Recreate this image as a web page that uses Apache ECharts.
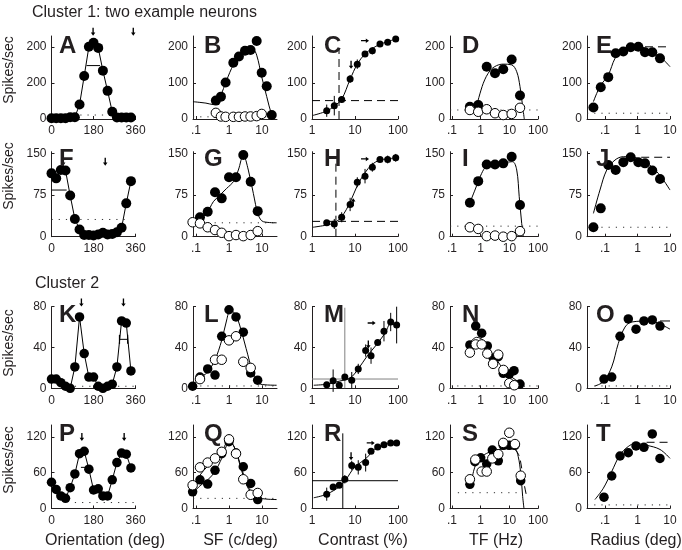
<!DOCTYPE html>
<html><head><meta charset="utf-8">
<script src="https://cdn.jsdelivr.net/npm/echarts@6/dist/echarts.min.js"></script>
<style>html,body{margin:0;padding:0;background:#fff}#c{width:682px;height:550px}</style>
</head><body><div id="c"></div>
<script>
// ================= DATA =================
// tick values / labels
const oriTicks=[0,180,360], oriTickText=['0','180','360'];
const sfTicks=[0.1,1,10], sfTickText=['.1','1','10'];
const conTicks=[1,10,100], conTickText=['1','10','100'];
const tfTicks=[0.1,1,10,100], tfTickText=['.1','1','10','100'];
const radTicks=[0.1,1,10], radTickText=['.1','1','10'];
const yTicks=[[0,100,200],[0,75,150],[0,40,80],[0,60,120]];
const A_yTickText=['0','200','200'];

// shared stimulus values
const oriDeg=[0,20,40,60,80,100,120,140,160,180,200,220,240,260,280,300,320,340];
const sfB=[0.40,0.57,0.79,1.35,2.0,3.05,4.5,6.9,9.8,13.9,19.7];
const sfX=[0.079,0.132,0.226,0.377,0.601,1.0,1.63,2.71,4.54,7.4];
const con10=[2.2,3.3,4.9,7.7,11.3,17.1,25.3,38.1,57.5,88.5];
const con12=[2.2,3.1,4.3,5.8,8.4,11.9,17.7,23.6,33.7,47.2,67.6,93];
const tf7=[0.42,0.82,1.62,3.15,6.1,12.0,23.4];
const rad10=[0.044,0.074,0.126,0.213,0.366,0.618,1.06,1.70,2.85,4.92];
const rad8=[0.093,0.161,0.29,0.521,0.9,1.58,2.85,4.92];

// A
const A_rate=[2,2,2,2,5,5,40,119,200,211,197,134,78,20,4,4,4,4];
const A_spont=11, A_barDeg=[150,208], A_barRate=[148,148];
const A_arrowDeg=[178,350], A_arrowRate=[242,242];
// B
const B_filled=[51,62,101,156,173,189,191,216,128,91,11];
const B_open=[17,7,6,6,6,7,7,8,14];
const B_fitSF=[0.081,0.2,0.335,0.533,0.851,1.35,2.15,3.43,5.46,6.9,9.8,13.9,19.7,23];
const B_fitRate=[48,44,40,62,108,150,177,186,191,177,117,62,11,2];
const B_spont=6;
// C
const C_rate=[23,37,54,111,152,180,189,208,213,222];
const C_sem=[17,27,9,11,13,5,10,4,3,3];
const C_fitCon=[1.05,2.2,3.3,4.9,7.7,11.3,17,25,38,57,88];
const C_fitRate=[10,22,36,55,110,152,180,195,207,214,222];
const C_c50=4.25, C_c50Top=197, C_base=51;
const C_arrowCon=[17.1,8.1], C_arrowRate=[217,150];
// D
const D_filled=[34,39,145,127,138,165,65], D_open=[25,20,27,16,11,14,31];
const D_fitTF=[0.72,1.23,2.11,3.6,6.1,12,18,23.4,29,33];
const D_fitRate=[36,99,134,148,152,150,131,90,34,0];
const D_spont=25;
// E
const E_rate=[32,88,116,182,187,199,200,185,185,168];
const E_fitRad=[0.044,0.070,0.126,0.203,0.327,0.587,1.06,2.43,4.92,10];
const E_fitRate=[48,90,122,168,191,200,200,191,173,145];
const E_dashRad=[1.7,10], E_dash=200, E_spont=16;
// F
const F_rate=[114,105,120,119,74,32,13,3,3,2,4,7,4,5,8,16,60,100];
const F_barDeg=[0,65], F_barRate=[84,84];
const F_spontDeg=[0,315], F_spont=31;
const F_arrowDeg=[50,230], F_arrowRate=[135,135];
// G
const G_filled=[null,35,45,80,69,107,107,147,99,46];
const G_open=[26,24,17,12,7,1,3,1,3,10];
const G_fitSF=[0.117,0.211,0.335,0.533,0.851,1.35,1.92,2.71,3.85,5.46,7.74,11,27.8];
const G_fitRate=[30,42,63,75,87,99,120,147,120,78,39,27,25];
const G_spont=25;
// H
const H_rate=[25,23,35,58,98,109,125,139,139,142];
const H_sem=[3,9,9,12,9,13,8,3,7,7];
const H_fitCon=[1.05,2.2,3.3,4.9,7.7,11.3,17,25,38,57,88];
const H_fitRate=[17,21,25,36,62,92,115,130,138,140,142];
const H_c50=3.6, H_c50Top=144, H_base=27.6;
const H_arrowCon=[17.1,9.1], H_arrowRate=[140,62];
// I
const I_filled=[61,100,130,130,132,144,57], I_open=[17,14,1,2,0,1,10];
const I_fitTF=[0.42,0.63,1.08,1.62,3.6,8.05,13,18,22,26.8,30.5];
const I_fitRate=[61,84,114,127,132,134,135,120,72,24,0];
const I_spont=19;
// J
const J_rate=[17,51,129,120,134,143,134,132,119,104];
const J_fitRad=[0.044,0.070,0.113,0.203,0.366,0.743,1.70,4.37,10];
const J_fitRate=[42,84,120,138,144,143,135,114,84];
const J_dashRad=[1.3,10], J_dash=143, J_spont=17;
// K
const K_rate=[9,9,5.5,2,0,21,70,34,11,11,2,0,2,4,21,66,64,17];
const K_barDeg=[291,326], K_barRate=[48,48];
const K_spontDeg=[100,360], K_spont=2;
const K_arrowDeg=[128,308], K_arrowRate=[84,84];
// L
const L_filled=[2,11,19,13,51,77,70,55,15,8];
const L_open=[null,9,null,28,28,47,51,26,20,null];
const L_fitSF=[0.079,0.132,0.226,0.377,0.601,0.851,1.08,1.5,2.1,3.3,5.46,9.1,27.8];
const L_fitRate=[2,10,16,28,47,67,76,73.5,62,39,15,4,3];
const L_spont=2.3;
// M
const M_rate=[3.5,7.5,3,11,8,19,37,32,45,56,65,62];
const M_sem=[0,11,0,0,8,5,6,8,0,10,9,18];
const M_fitCon=[1.1,2.2,4.3,7.65,11.9,18.7,32,50,67.6,93];
const M_fitRate=[3,4,7,10,19,31,43,54,63,62];
const M_c50=5.8, M_c50Top=79, M_base=9.1;
const M_arrowCon=[24.4,20.4], M_arrowRate=[64,43];
// N
const N_fTF=[0.42,0.67,1.08,1.70,2.75,4.1,6.1,9.9,14.5,23.4];
const N_filled=[42.5,61,54,41.5,29.4,31,14.7,14,17.3,4.2];
const N_oTF=[0.42,0.67,1.08,1.70,2.7,4.1,6.2,9.9,14.8];
const N_open=[35,43,43,34,24,33,18,5,3];
const N_fitTF=[0.42,0.72,1.23,2.11,3.6,6.1,12,23.4,35];
const N_fitRate=[45,50,47,37,28,19,11,5.5,1.6];
const N_spont=2.3;
// O
const O_rate=[9,11,51,68,58,66,67,61];
const O_fitRad=[0.049,0.089,0.161,0.257,0.412,0.66,2.43,4.92,10];
const O_fitRate=[2.3,6.5,21,44,60,65,66,63,58];
const O_dashRad=[4.92,10], O_dash=66, O_spont=2.3;
// P
const P_rate=[44,32,21,17,35,58,92,96,66,31,33,21,21,48,77,93,91,68];
const P_barDeg=[126,157], P_barRate=[69,69];
const P_spontDeg=[100,360], P_spont=10;
const P_arrowDeg=[130,311], P_arrowRate=[120,120];
// Q
const Q_filled=[28,48,41,64,92,112,93,70,42,15];
const Q_open=[39,69,77,84,95,116,92,49,23,26];
const Q_fitSF=[0.079,0.132,0.226,0.377,0.601,1.0,1.35,2.1,3.3,5.46,9.1,27.8];
const Q_fitRate=[25,38,48,62,84,109,106,78,45,23,17,15];
const Q_fitOpenSF=[0.079,0.132,0.226,0.377,0.601,1.0,1.5,2.4,3.8,6.3];
const Q_fitOpenRate=[36,56,71,82,95,115,101,64,34,21];
const Q_spont=17;
// R
const R_rate=[24,36,39,49,72,69,77,96,103,107,110,110];
const R_sem=[11,0,0,7,8,12,15,0,0,0,5,0];
const R_fitCon=[1.1,2.2,4.4,6.1,9.5,18.7,28,45,93];
const R_fitRate=[18,24,37,48,68,85,99,107,110];
const R_c50=5.2, R_c50Top=126, R_base=46.6;
const R_arrowCon=[8.1,23.2], R_arrowRate=[87.5,110];
// S
const S_fTF=[0.42,0.63,1.0,1.62,2.54,4.1,6.1,9.9,15.6,24.8];
const S_filled=[40.5,78.5,85,74.6,98,80,106,106,106,46.6];
const S_oTF=[0.42,0.65,1.08,1.62,2.54,4.1,6.1,9.9,15.6,24.8];
const S_open=[49,82,62,62,84,91,110,127,108,55];
const S_fitTF=[0.485,0.58,0.83,1.62,3.6,8.05,15.6,20.3,24.8,29,32.2];
const S_fitRate=[45,64.5,82,92.5,98,100,99,87,59,20,0];
const S_fitOpenTF=[15.6,22,28,33,38,42];
const S_fitOpenRate=[100,88,62,40,25,16];
const S_spontTF=[0.16,25], S_spont=26.5;
// T
const T_rate=[19,54.5,88,93.5,105,102.6,125,84];
const T_fitRad=[0.049,0.089,0.161,0.29,0.521,0.84,1.91,4.92,10];
const T_fitRate=[15,34,62,90,104,109,106,99,84];
const T_dashRad=[1.9,10], T_dash=111, T_spont=6;

// ================= LAYOUT =================
const FONT='"Liberation Sans", Arial, Helvetica, sans-serif';
const AX='#231f20';
const colPx=[[51.5,135.6],[193,277],[312,398],[450,538.1],[587,670]];
const colRange=[[0,360],[-1.0909,1.4545],[0,2],[-1.0697,2],[-1.5538,1]];
const colLog=[false,true,true,true,true];
const rowPx=[[36,119],[151.7,236.7],[306.7,388.3],[425,508.5]];
const rowMax=[230,153,80,140];
const colTicks=[oriTicks,sfTicks,conTicks,tfTicks,radTicks];
const colTickText=[oriTickText,sfTickText,conTickText,tfTickText,radTickText];

const grids=[],xAxis=[],yAxis=[],series=[];
for(let r=0;r<4;r++)for(let c=0;c<5;c++){
  const i=r*5+c;
  grids.push({left:colPx[c][0],top:rowPx[r][0],width:colPx[c][1]-colPx[c][0],height:rowPx[r][1]-rowPx[r][0]});
  const xt=colTicks[c].map(v=>colLog[c]?Math.log10(v):v);
  const xtxt=colTickText[c];
  xAxis.push({gridIndex:i,type:'value',min:colRange[c][0],max:colRange[c][1],
    axisLine:{show:true,onZero:false,lineStyle:{color:AX,width:1}},
    axisTick:{show:true,inside:true,length:3,customValues:xt,lineStyle:{color:AX,width:1}},
    axisLabel:{show:true,customValues:xt,margin:6,fontSize:12,fontFamily:FONT,color:AX,
      formatter:v=>{const k=xt.findIndex(t=>Math.abs(t-v)<1e-6);return k<0?'':xtxt[k];}},
    splitLine:{show:false}});
  const yt=yTicks[r];
  const ytxt=(i===0)?A_yTickText:yt.map(String);
  yAxis.push({gridIndex:i,type:'value',min:0,max:rowMax[r],
    axisLine:{show:true,onZero:false,lineStyle:{color:AX,width:1}},
    axisTick:{show:true,inside:true,length:3,customValues:yt,lineStyle:{color:AX,width:1}},
    axisLabel:{show:true,customValues:yt,margin:5,fontSize:12,fontFamily:FONT,color:AX,
      formatter:v=>{const k=yt.findIndex(t=>Math.abs(t-v)<1e-6);return k<0?'':ytxt[k];}},
    splitLine:{show:false}});
}

// ================= HELPERS =================
const DOT={type:[1.2,6],width:1,color:'#333'};
const DASH={type:[8,5],width:1,color:'#000'};
const SOLID={type:'solid',width:1,color:'#000'};
const GRAY={type:'solid',width:1,color:'#808080'};
function X(c,v){return colLog[c]?Math.log10(v):v;}
function pts(c,xs,ys){const o=[];for(let k=0;k<ys.length;k++){if(ys[k]==null)continue;o.push([X(c,xs[k]),ys[k]]);}return o;}
function lineS(i,c,xs,ys,st,smooth,z){series.push({type:'line',xAxisIndex:i,yAxisIndex:i,data:pts(c,xs,ys),showSymbol:false,symbol:'none',smooth:smooth||false,lineStyle:st,z:z||2,silent:true,animation:false,clip:false});}
function curve(i,c,xs,ys,st){lineS(i,c,xs,ys,st||SOLID,0.35,2);}
function conn(i,c,xs,ys){lineS(i,c,xs,ys,SOLID,false,2);}
function seg(i,c,xs,ys,st){lineS(i,c,xs,ys,st,false,1);}
function hfull(i,c,y,st){series.push({type:'line',xAxisIndex:i,yAxisIndex:i,data:[[colRange[c][0],y],[colRange[c][1],y]],showSymbol:false,symbol:'none',lineStyle:st,z:1,silent:true,animation:false});}
function vline(i,c,x,top,st){series.push({type:'line',xAxisIndex:i,yAxisIndex:i,data:[[X(c,x),0],[X(c,x),top]],showSymbol:false,symbol:'none',lineStyle:st,z:1,silent:true,animation:false});}
function dots(i,c,xs,ys,open,size){series.push({type:'scatter',xAxisIndex:i,yAxisIndex:i,data:pts(c,xs,ys),symbol:'circle',symbolSize:size||9.5,
  itemStyle:open?{color:'#fff',borderColor:'#000',borderWidth:1,opacity:1}:{color:'#000',opacity:1},z:open?4:3,animation:false,silent:true,clip:false});}
function err(i,c,xs,ys,es){series.push({type:'custom',xAxisIndex:i,yAxisIndex:i,
  data:xs.map((x,k)=>[X(c,x),ys[k]-es[k],ys[k]+es[k]]).filter((d,k)=>es[k]>0),encode:{x:0,y:[1,2]},
  renderItem:(p,api)=>{const a=api.coord([api.value(0),api.value(1)]),b=api.coord([api.value(0),api.value(2)]);
    return {type:'line',shape:{x1:a[0],y1:a[1],x2:b[0],y2:b[1]},style:{stroke:'#000',lineWidth:1}};},z:2,animation:false,silent:true,clip:false});}
const ARROW='path://M-0.6,0L0.6,0L0.6,6L2,6L0,10L-2,6L-0.6,6Z';
const ROT={down:0,right:90,up:180};
function arrows(i,c,xs,ys,dirs){series.push({type:'scatter',xAxisIndex:i,yAxisIndex:i,
  data:xs.map((x,k)=>({value:[X(c,x),ys[k]],symbolRotate:ROT[dirs[k]]})),symbol:ARROW,symbolSize:[4.5,8],
  itemStyle:{color:'#000',opacity:1},z:5,animation:false,silent:true,clip:false});}
function hbar(i,c,xs,ys){series.push({type:'line',xAxisIndex:i,yAxisIndex:i,data:pts(c,xs,ys),showSymbol:true,symbol:'rect',symbolSize:[1.2,9],
  itemStyle:{color:'#000',opacity:1},lineStyle:SOLID,z:2,animation:false,silent:true});}

// ================= PANELS =================
// A
conn(0,0,oriDeg,A_rate); hfull(0,0,A_spont,DOT); seg(0,0,A_barDeg,A_barRate,SOLID);
dots(0,0,oriDeg,A_rate,false,10); arrows(0,0,A_arrowDeg,A_arrowRate,['down','down']);
// B
hfull(1,1,B_spont,DOT); curve(1,1,B_fitSF,B_fitRate);
dots(1,1,sfB,B_filled,false,10); dots(1,1,sfB,B_open,true,9.5);
// C
hfull(2,2,C_base,DASH); vline(2,2,C_c50,C_c50Top,DASH); curve(2,2,C_fitCon,C_fitRate);
err(2,2,con10,C_rate,C_sem); dots(2,2,con10,C_rate,false,7); arrows(2,2,C_arrowCon,C_arrowRate,['right','down']);
// D
hfull(3,3,D_spont,DOT); curve(3,3,D_fitTF,D_fitRate);
dots(3,3,tf7,D_filled,false,10); dots(3,3,tf7,D_open,true,9.5);
// E
hfull(4,4,E_spont,DOT); seg(4,4,E_dashRad,[E_dash,E_dash],DASH); curve(4,4,E_fitRad,E_fitRate);
dots(4,4,rad10,E_rate,false,10);
// F
conn(5,0,oriDeg,F_rate); seg(5,0,F_spontDeg,[F_spont,F_spont],DOT); seg(5,0,F_barDeg,F_barRate,SOLID);
dots(5,0,oriDeg,F_rate,false,10); arrows(5,0,F_arrowDeg,F_arrowRate,['down','down']);
// G
hfull(6,1,G_spont,DOT); curve(6,1,G_fitSF,G_fitRate);
dots(6,1,sfX,G_filled,false,10); dots(6,1,sfX,G_open,true,9.5);
// H
hfull(7,2,H_base,DASH); vline(7,2,H_c50,H_c50Top,DASH); curve(7,2,H_fitCon,H_fitRate);
err(7,2,con10,H_rate,H_sem); dots(7,2,con10,H_rate,false,7); arrows(7,2,H_arrowCon,H_arrowRate,['right','up']);
// I
hfull(8,3,I_spont,DOT); curve(8,3,I_fitTF,I_fitRate);
dots(8,3,tf7,I_filled,false,10); dots(8,3,tf7,I_open,true,9.5);
// J
hfull(9,4,J_spont,DOT); seg(9,4,J_dashRad,[J_dash,J_dash],DASH); curve(9,4,J_fitRad,J_fitRate);
dots(9,4,rad10,J_rate,false,10);
// K
conn(10,0,oriDeg,K_rate); seg(10,0,K_spontDeg,[K_spont,K_spont],DOT); hbar(10,0,K_barDeg,K_barRate);
dots(10,0,oriDeg,K_rate,false,9.5); arrows(10,0,K_arrowDeg,K_arrowRate,['down','down']);
// L
hfull(11,1,L_spont,DOT); curve(11,1,L_fitSF,L_fitRate);
dots(11,1,sfX,L_filled,false,9.5); dots(11,1,sfX,L_open,true,9.5);
// M
hfull(12,2,M_base,GRAY); vline(12,2,M_c50,M_c50Top,GRAY); curve(12,2,M_fitCon,M_fitRate);
err(12,2,con12,M_rate,M_sem); dots(12,2,con12,M_rate,false,7); arrows(12,2,M_arrowCon,M_arrowRate,['right','down']);
// N
hfull(13,3,N_spont,DOT); curve(13,3,N_fitTF,N_fitRate);
dots(13,3,N_fTF,N_filled,false,9.5); dots(13,3,N_oTF,N_open,true,9.5);
// O
hfull(14,4,O_spont,DOT); seg(14,4,O_dashRad,[O_dash,O_dash],SOLID); curve(14,4,O_fitRad,O_fitRate);
dots(14,4,rad8,O_rate,false,9.5);
// P
conn(15,0,oriDeg,P_rate); seg(15,0,P_spontDeg,[P_spont,P_spont],DOT); seg(15,0,P_barDeg,P_barRate,SOLID);
dots(15,0,oriDeg,P_rate,false,9.5); arrows(15,0,P_arrowDeg,P_arrowRate,['down','down']);
// Q
hfull(16,1,Q_spont,DOT); curve(16,1,Q_fitSF,Q_fitRate); curve(16,1,Q_fitOpenSF,Q_fitOpenRate);
dots(16,1,sfX,Q_filled,false,9.5); dots(16,1,sfX,Q_open,true,9.5);
// R
hfull(17,2,R_base,SOLID); vline(17,2,R_c50,R_c50Top,SOLID); curve(17,2,R_fitCon,R_fitRate);
err(17,2,con12,R_rate,R_sem); dots(17,2,con12,R_rate,false,7); arrows(17,2,R_arrowCon,R_arrowRate,['down','right']);
// S
seg(18,3,S_spontTF,[S_spont,S_spont],DOT); curve(18,3,S_fitTF,S_fitRate); curve(18,3,S_fitOpenTF,S_fitOpenRate,DASH);
dots(18,3,S_fTF,S_filled,false,9.5); dots(18,3,S_oTF,S_open,true,9.5);
// T
hfull(19,4,T_spont,DOT); seg(19,4,T_dashRad,[T_dash,T_dash],DASH); curve(19,4,T_fitRad,T_fitRate);
dots(19,4,rad8,T_rate,false,9.5);

// ================= TEXT =================
const letters=['A','B','C','D','E','F','G','H','I','J','K','L','M','N','O','P','Q','R','S','T'];
const letterX=[59,204,324,462,596];
const letterY=[46,159.5,315,434];
const rowMid=[70,176,343,460];
const xTitles=['Orientation (deg)','SF (c/deg)','Contrast (%)','TF (Hz)','Radius (deg)'];
const xTitleX=[105,240.5,363,496,636];
const els=[];
function gtext(text,x,y,font,align,rot){return {type:'text',x:x,y:y,rotation:rot||0,silent:true,z:10,
  style:{text:text,font:font,fill:AX,align:align||'left',verticalAlign:'middle'}};}
els.push(gtext('Cluster 1: two example neurons',32,13,'16px '+FONT));
els.push(gtext('Cluster 2',35,283.5,'16px '+FONT));
letters.forEach((L,k)=>{const r=Math.floor(k/5),c=k%5;els.push(gtext(L,letterX[c],letterY[r],'bold 24px '+FONT));});
rowMid.forEach(y=>els.push(gtext('Spikes/sec',9,y,'14px '+FONT,'center',Math.PI/2)));
xTitles.forEach((t,c)=>els.push(gtext(t,xTitleX[c],541,'16px '+FONT,'center')));

const chart=echarts.init(document.getElementById('c'),null,{renderer:'canvas',width:682,height:550});
chart.setOption({animation:false,backgroundColor:'#fff',textStyle:{fontFamily:FONT},
  grid:grids,xAxis:xAxis,yAxis:yAxis,series:series,graphic:{elements:els}});
</script></body></html>
